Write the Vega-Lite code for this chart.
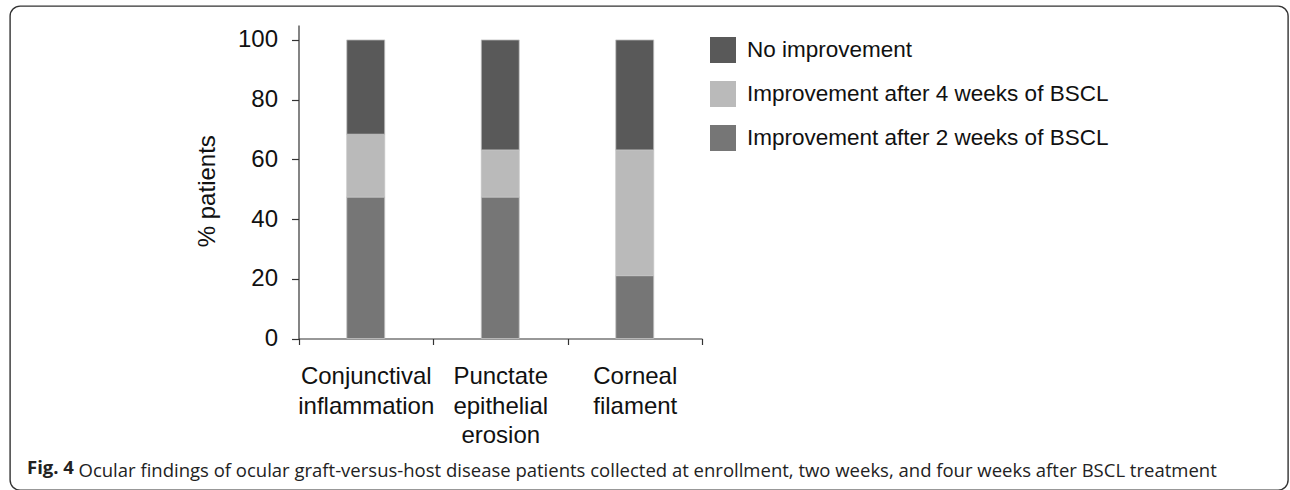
{
  "$schema": "https://vega.github.io/schema/vega-lite/v6.json",
  "autosize": "none",
  "width": 1278,
  "height": 484,
  "padding": {"left": 10, "top": 6, "right": 2, "bottom": 0},
  "background": "white",
  "config": {
    "view": {"stroke": "#333333", "strokeWidth": 1.4, "cornerRadius": 10, "fill": "white"}
  },
  "title": {
    "text": "Fig. 4",
    "orient": "top",
    "anchor": "start",
    "frame": "group",
    "offset": 0,
    "baseline": "alphabetic",
    "dx": 17,
    "dy": 486,
    "font": "Open Sans",
    "fontSize": 18.5,
    "fontWeight": "bold",
    "color": "#222222"
  },
  "data": {
    "values": [
      {"finding": "Conjunctival inflammation", "outcome": "Improvement after 2 weeks of BSCL", "pct": 47.37, "rank": 1},
      {"finding": "Conjunctival inflammation", "outcome": "Improvement after 4 weeks of BSCL", "pct": 21.05, "rank": 2},
      {"finding": "Conjunctival inflammation", "outcome": "No improvement", "pct": 31.58, "rank": 3},
      {"finding": "Punctate epithelial erosion", "outcome": "Improvement after 2 weeks of BSCL", "pct": 47.37, "rank": 1},
      {"finding": "Punctate epithelial erosion", "outcome": "Improvement after 4 weeks of BSCL", "pct": 15.79, "rank": 2},
      {"finding": "Punctate epithelial erosion", "outcome": "No improvement", "pct": 36.84, "rank": 3},
      {"finding": "Corneal filament", "outcome": "Improvement after 2 weeks of BSCL", "pct": 21.05, "rank": 1},
      {"finding": "Corneal filament", "outcome": "Improvement after 4 weeks of BSCL", "pct": 42.11, "rank": 2},
      {"finding": "Corneal filament", "outcome": "No improvement", "pct": 36.84, "rank": 3}
    ]
  },
  "mark": {"type": "bar", "width": {"band": 0.2825}, "stroke": "#c4c4c4", "strokeWidth": 0.8},
  "encoding": {
    "x": {
      "field": "finding",
      "type": "nominal",
      "sort": ["Conjunctival inflammation", "Punctate epithelial erosion", "Corneal filament"],
      "scale": {"type": "band", "range": [288.5, 692], "paddingInner": 0, "paddingOuter": 0},
      "axis": {
        "orient": "bottom",
        "offset": -151.5,
        "labelAngle": 0,
        "labelExpr": "split(datum.label, ' ')",
        "labelFont": "Liberation Sans",
        "labelFontSize": 24,
        "labelLineHeight": 29.5,
        "labelPadding": 20,
        "labelColor": "#111111",
        "labelOverlap": false,
        "labelLimit": 0,
        "tickBand": "extent",
        "tickSize": 6,
        "tickColor": "#333333",
        "tickWidth": 1.2,
        "domainColor": "#333333",
        "domainWidth": 1.2,
        "grid": false,
        "title": "Ocular findings of ocular graft-versus-host disease patients collected at enrollment, two weeks, and four weeks after BSCL treatment",
        "titleFont": "Open Sans",
        "titleFontSize": 18.5,
        "titleFontWeight": "normal",
        "titleColor": "#222222",
        "titleAlign": "left",
        "titleAnchor": "start",
        "titleBaseline": "alphabetic",
        "titleX": 68,
        "titleY": 137.5,
        "titleLimit": 0
      }
    },
    "y": {
      "field": "pct",
      "type": "quantitative",
      "stack": "zero",
      "scale": {"domain": [0, 105], "range": [332.5, 19], "nice": false, "zero": true},
      "axis": {
        "orient": "left",
        "offset": -288.5,
        "values": [0, 20, 40, 60, 80, 100],
        "labelFont": "Liberation Sans",
        "labelFontSize": 24,
        "labelPadding": 14,
        "labelColor": "#111111",
        "labelFlush": false,
        "labelOverlap": false,
        "tickSize": 7,
        "tickColor": "#333333",
        "tickWidth": 1.2,
        "domainColor": "#333333",
        "domainWidth": 1.2,
        "grid": false,
        "title": "% patients",
        "titleFont": "Liberation Sans",
        "titleFontSize": 24,
        "titleFontWeight": "normal",
        "titleColor": "#111111",
        "titleAngle": -90,
        "titleAlign": "center",
        "titleBaseline": "middle",
        "titleX": -91.5,
        "titleY": 184.7
      }
    },
    "color": {
      "field": "outcome",
      "type": "nominal",
      "scale": {
        "domain": ["No improvement", "Improvement after 4 weeks of BSCL", "Improvement after 2 weeks of BSCL"],
        "range": ["#595959", "#bababa", "#767676"]
      },
      "legend": {
        "orient": "none",
        "legendX": 700,
        "legendY": 31,
        "title": null,
        "symbolType": "square",
        "symbolSize": 676,
        "symbolStrokeWidth": 0,
        "symbolOpacity": 1,
        "labelFont": "Liberation Sans",
        "labelFontSize": 22.5,
        "labelColor": "#111111",
        "labelOffset": 11,
        "labelLimit": 0,
        "rowPadding": 18,
        "padding": 0
      }
    },
    "order": {"field": "rank", "type": "quantitative", "sort": "ascending"}
  }
}
